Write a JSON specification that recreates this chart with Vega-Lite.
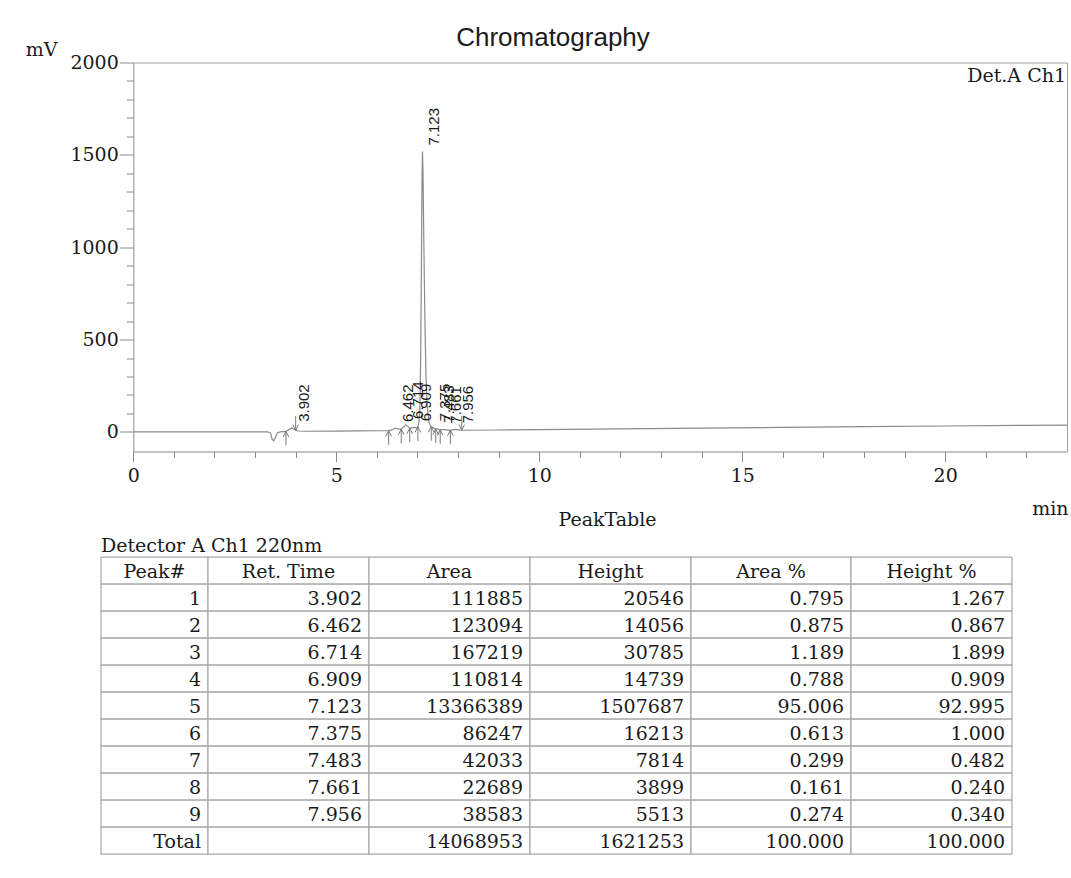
{
  "$schema": "https://vega.github.io/schema/vega-lite/v6.json",
  "background": "white",
  "padding": {"left": 25, "top": 24.5, "right": 0, "bottom": 0},
  "config": {
    "view": {"stroke": null},
    "font": "DejaVu Serif",
    "text": {"font": "DejaVu Serif", "fontSize": 19, "color": "#1a1a1a"}
  },
  "datasets": {
    "trace": [
      {"t": 0.0, "v": 0.0}, {"t": 1.0, "v": 0.3}, {"t": 2.0, "v": 0.5}, {"t": 3.0, "v": 0.6},
      {"t": 3.3, "v": 0.8}, {"t": 3.38, "v": -5}, {"t": 3.42, "v": -40}, {"t": 3.46, "v": -48},
      {"t": 3.5, "v": -30}, {"t": 3.55, "v": -4}, {"t": 3.62, "v": 0}, {"t": 3.7, "v": 2},
      {"t": 3.76, "v": 3}, {"t": 3.82, "v": 10}, {"t": 3.87, "v": 19}, {"t": 3.902, "v": 22},
      {"t": 3.95, "v": 16}, {"t": 4.0, "v": 9}, {"t": 4.05, "v": 5}, {"t": 4.2, "v": 3.5},
      {"t": 5.0, "v": 4.5}, {"t": 5.5, "v": 5.5}, {"t": 6.0, "v": 6.2}, {"t": 6.29, "v": 7},
      {"t": 6.38, "v": 12}, {"t": 6.462, "v": 21}, {"t": 6.55, "v": 15}, {"t": 6.6, "v": 15},
      {"t": 6.714, "v": 38}, {"t": 6.78, "v": 26}, {"t": 6.81, "v": 20}, {"t": 6.909, "v": 25},
      {"t": 6.98, "v": 22}, {"t": 7.01, "v": 28}, {"t": 7.04, "v": 60}, {"t": 7.06, "v": 140},
      {"t": 7.08, "v": 420}, {"t": 7.1, "v": 1000}, {"t": 7.112, "v": 1350}, {"t": 7.123, "v": 1518},
      {"t": 7.135, "v": 1420}, {"t": 7.15, "v": 1150}, {"t": 7.17, "v": 800}, {"t": 7.19, "v": 520},
      {"t": 7.21, "v": 300}, {"t": 7.24, "v": 140}, {"t": 7.28, "v": 55}, {"t": 7.33, "v": 30},
      {"t": 7.375, "v": 25}, {"t": 7.43, "v": 16}, {"t": 7.483, "v": 16}, {"t": 7.55, "v": 12},
      {"t": 7.661, "v": 12}, {"t": 7.75, "v": 10}, {"t": 7.85, "v": 10}, {"t": 7.956, "v": 14},
      {"t": 8.05, "v": 10}, {"t": 8.1, "v": 9}, {"t": 9.0, "v": 10.5}, {"t": 10.0, "v": 12.5},
      {"t": 12.0, "v": 16.5}, {"t": 14.0, "v": 20.5}, {"t": 16.0, "v": 24.5}, {"t": 18.0, "v": 28.5},
      {"t": 20.0, "v": 32}, {"t": 22.0, "v": 35.5}, {"t": 23.0, "v": 37}
    ],
    "peaks": [
      {"peak": "1", "ret": 3.902, "area": 111885, "height": 20546, "areaPct": 0.795, "heightPct": 1.267, "top": 22},
      {"peak": "2", "ret": 6.462, "area": 123094, "height": 14056, "areaPct": 0.875, "heightPct": 0.867, "top": 21},
      {"peak": "3", "ret": 6.714, "area": 167219, "height": 30785, "areaPct": 1.189, "heightPct": 1.899, "top": 38},
      {"peak": "4", "ret": 6.909, "area": 110814, "height": 14739, "areaPct": 0.788, "heightPct": 0.909, "top": 25},
      {"peak": "5", "ret": 7.123, "area": 13366389, "height": 1507687, "areaPct": 95.006, "heightPct": 92.995, "top": 1518},
      {"peak": "6", "ret": 7.375, "area": 86247, "height": 16213, "areaPct": 0.613, "heightPct": 1.0, "top": 25},
      {"peak": "7", "ret": 7.483, "area": 42033, "height": 7814, "areaPct": 0.299, "heightPct": 0.482, "top": 16},
      {"peak": "8", "ret": 7.661, "area": 22689, "height": 3899, "areaPct": 0.161, "heightPct": 0.24, "top": 12},
      {"peak": "9", "ret": 7.956, "area": 38583, "height": 5513, "areaPct": 0.274, "heightPct": 0.34, "top": 14},
      {"peak": "Total", "ret": null, "area": 14068953, "height": 1621253, "areaPct": 100, "heightPct": 100, "top": null}
    ],
    "boundaries": [
      {"t": 3.76, "v": 3, "kind": "start"}, {"t": 4.0, "v": 9, "kind": "end"},
      {"t": 6.29, "v": 7, "kind": "start"}, {"t": 6.6, "v": 15, "kind": "start"},
      {"t": 6.81, "v": 20, "kind": "start"}, {"t": 7.01, "v": 28, "kind": "start"},
      {"t": 7.34, "v": 29, "kind": "start"}, {"t": 7.45, "v": 16, "kind": "start"},
      {"t": 7.56, "v": 12, "kind": "start"}, {"t": 7.81, "v": 10, "kind": "start"},
      {"t": 8.09, "v": 9, "kind": "end"}
    ]
  },
  "spacing": -8.3,
  "vconcat": [
    {
      "width": 966,
      "height": 389,
      "title": {
        "text": "Chromatography",
        "font": "Liberation Sans",
        "fontSize": 26,
        "fontWeight": "normal",
        "color": "#1a1a1a",
        "anchor": "middle",
        "frame": "group",
        "baseline": "alphabetic",
        "dx": -31,
        "offset": -31
      },
      "resolve": {"axis": {"x": "independent", "y": "independent"}},
      "layer": [
        {
          "data": {"name": "trace"},
          "mark": {"type": "line", "color": "#8a8a8a", "strokeWidth": 1.2},
          "encoding": {
            "x": {
              "field": "t", "type": "quantitative",
              "scale": {"domain": [0, 23], "range": [32.3, 966], "nice": false, "zero": false},
              "axis": {
                "orient": "bottom", "values": [0, 5, 10, 15, 20], "format": "d",
                "grid": false, "tickSize": 10, "tickColor": "#8c8c8c", "domainColor": "#8c8c8c",
                "labelFont": "DejaVu Serif", "labelFontSize": 19, "labelColor": "#1a1a1a",
                "labelPadding": 5, "labelFlush": false, "labelOverlap": false,
                "title": "min", "titleFont": "DejaVu Serif", "titleFontSize": 19,
                "titleFontWeight": "normal", "titleColor": "#1a1a1a",
                "titleAnchor": "end", "titleAlign": "right", "titleBaseline": "alphabetic",
                "titleX": 967, "titleY": 63
              }
            },
            "y": {
              "field": "v", "type": "quantitative",
              "scale": {"domain": [-106, 2000], "nice": false, "zero": false},
              "axis": {
                "orient": "left", "offset": -32.3, "values": [0, 500, 1000, 1500, 2000], "format": "d",
                "grid": false, "tickSize": 14, "tickColor": "#8c8c8c", "domainColor": "#8c8c8c",
                "labelFont": "DejaVu Serif", "labelFontSize": 19, "labelColor": "#1a1a1a",
                "labelPadding": 1, "labelOverlap": false,
                "title": "mV", "titleFont": "DejaVu Serif", "titleFontSize": 19,
                "titleFontWeight": "normal", "titleColor": "#1a1a1a", "titleAngle": 0,
                "titleAlign": "left", "titleBaseline": "alphabetic", "titleX": -108, "titleY": -7
              }
            }
          }
        },
        {
          "data": {"name": "boundaries"},
          "mark": {"type": "point", "filled": false, "stroke": "#7a7a7a", "strokeWidth": 1, "size": 200, "opacity": 1},
          "encoding": {
            "x": {
              "field": "t", "type": "quantitative",
              "scale": {"domain": [0, 23], "range": [32.3, 966], "nice": false, "zero": false},
              "axis": {
                "orient": "bottom", "values": [1, 2, 3, 4, 6, 7, 8, 9, 11, 12, 13, 14, 16, 17, 18, 19, 21, 22],
                "grid": false, "domain": false, "labels": false, "tickSize": 6, "tickColor": "#8c8c8c", "title": null
              }
            },
            "y": {
              "field": "v", "type": "quantitative",
              "scale": {"domain": [-106, 2000], "nice": false, "zero": false},
              "axis": {
                "orient": "left", "offset": -32.3,
                "values": [100, 200, 300, 400, 600, 700, 800, 900, 1100, 1200, 1300, 1400, 1600, 1700, 1800, 1900],
                "grid": false, "domain": false, "labels": false, "tickSize": 7, "tickColor": "#8c8c8c", "title": null
              }
            },
            "shape": {
              "field": "kind", "type": "nominal",
              "scale": {"domain": ["start", "end"], "range": ["M0,0L0,2M-0.4,0.8L0,0L0.4,0.8", "M0,0L0,-2M-0.4,-0.8L0,0L0.4,-0.8"]},
              "legend": null
            }
          }
        },
        {
          "data": {"name": "peaks"},
          "transform": [{"filter": "isValid(datum.ret)"}],
          "mark": {
            "type": "text", "angle": 270, "align": "left", "baseline": "top",
            "dx": 6, "dy": 5, "font": "Liberation Sans", "fontSize": 15, "color": "#1a1a1a"
          },
          "encoding": {
            "x": {
              "field": "ret", "type": "quantitative",
              "scale": {"domain": [0, 23], "range": [32.3, 966], "nice": false, "zero": false},
              "axis": {"orient": "top", "domain": true, "domainColor": "#a0a0a0", "ticks": false, "labels": false, "grid": false, "title": null}
            },
            "y": {
              "field": "top", "type": "quantitative",
              "scale": {"domain": [-106, 2000], "nice": false, "zero": false},
              "axis": {"orient": "right", "domain": true, "domainColor": "#a0a0a0", "ticks": false, "labels": false, "grid": false, "title": null}
            },
            "text": {"field": "ret", "type": "quantitative", "format": ".3f"}
          }
        },
        {
          "data": {"values": [{"detector": "Det.A Ch1"}]},
          "mark": {"type": "text", "align": "right", "baseline": "alphabetic", "dx": -1, "dy": 19, "fontSize": 19},
          "encoding": {
            "x": {"datum": 23, "type": "quantitative", "axis": null},
            "y": {"datum": 2000, "type": "quantitative", "axis": null},
            "text": {"field": "detector", "type": "nominal"}
          }
        }
      ]
    },
    {
      "title": {
        "text": "PeakTable", "font": "DejaVu Serif", "fontSize": 19, "fontWeight": "normal",
        "color": "#1a1a1a", "anchor": "middle", "baseline": "alphabetic", "dx": 51, "offset": -8
      },
      "bounds": "flush",
      "spacing": 0,
      "hconcat": [
        {
          "width": 107, "height": 297,
          "title": {
            "text": "Detector A Ch1 220nm", "font": "DejaVu Serif", "fontSize": 19, "fontWeight": "normal",
            "color": "#1a1a1a", "anchor": "start", "frame": "group", "baseline": "alphabetic", "offset": -14
          },
          "encoding": {
            "y": {"field": "peak", "type": "nominal", "sort": null, "axis": null,
                  "scale": {"domain": ["head", "1", "2", "3", "4", "5", "6", "7", "8", "9", "Total"], "paddingInner": 0, "paddingOuter": 0}}
          },
          "layer": [
            {"data": {"values": [{"peak": "head"}]}, "mark": {"type": "rect", "fill": "white", "stroke": "#a8a8a8", "strokeWidth": 1.2},
             "encoding": {"x": {"datum": 0, "type": "quantitative", "scale": {"domain": [0, 1]}, "axis": null}, "x2": {"datum": 1}}},
            {"data": {"values": [{"peak": "head"}]}, "mark": {"type": "text", "text": "Peak#", "align": "center", "baseline": "middle", "dy": 1},
             "encoding": {"x": {"datum": 0.5, "type": "quantitative"}}},
            {"data": {"name": "peaks"}, "mark": {"type": "rect", "fill": "white", "stroke": "#a8a8a8", "strokeWidth": 1.2},
             "encoding": {"x": {"datum": 0, "type": "quantitative"}, "x2": {"datum": 1}}},
            {"data": {"name": "peaks"}, "mark": {"type": "text", "align": "right", "baseline": "middle", "dx": -7, "dy": 1},
             "encoding": {"x": {"datum": 1, "type": "quantitative"}, "text": {"field": "peak", "type": "nominal"}}}
          ]
        },
        {
          "width": 161, "height": 297,
          "encoding": {
            "y": {"field": "peak", "type": "nominal", "sort": null, "axis": null,
                  "scale": {"domain": ["head", "1", "2", "3", "4", "5", "6", "7", "8", "9", "Total"], "paddingInner": 0, "paddingOuter": 0}}
          },
          "layer": [
            {"data": {"values": [{"peak": "head"}]}, "mark": {"type": "rect", "fill": "white", "stroke": "#a8a8a8", "strokeWidth": 1.2},
             "encoding": {"x": {"datum": 0, "type": "quantitative", "scale": {"domain": [0, 1]}, "axis": null}, "x2": {"datum": 1}}},
            {"data": {"values": [{"peak": "head"}]}, "mark": {"type": "text", "text": "Ret. Time", "align": "center", "baseline": "middle", "dy": 1},
             "encoding": {"x": {"datum": 0.5, "type": "quantitative"}}},
            {"data": {"name": "peaks"}, "mark": {"type": "rect", "fill": "white", "stroke": "#a8a8a8", "strokeWidth": 1.2},
             "encoding": {"x": {"datum": 0, "type": "quantitative"}, "x2": {"datum": 1}}},
            {"data": {"name": "peaks"}, "transform": [{"filter": "isValid(datum.ret)"}],
             "mark": {"type": "text", "align": "right", "baseline": "middle", "dx": -7, "dy": 1},
             "encoding": {"x": {"datum": 1, "type": "quantitative"}, "text": {"field": "ret", "type": "quantitative", "format": ".3f"}}}
          ]
        },
        {
          "width": 161, "height": 297,
          "encoding": {
            "y": {"field": "peak", "type": "nominal", "sort": null, "axis": null,
                  "scale": {"domain": ["head", "1", "2", "3", "4", "5", "6", "7", "8", "9", "Total"], "paddingInner": 0, "paddingOuter": 0}}
          },
          "layer": [
            {"data": {"values": [{"peak": "head"}]}, "mark": {"type": "rect", "fill": "white", "stroke": "#a8a8a8", "strokeWidth": 1.2},
             "encoding": {"x": {"datum": 0, "type": "quantitative", "scale": {"domain": [0, 1]}, "axis": null}, "x2": {"datum": 1}}},
            {"data": {"values": [{"peak": "head"}]}, "mark": {"type": "text", "text": "Area", "align": "center", "baseline": "middle", "dy": 1},
             "encoding": {"x": {"datum": 0.5, "type": "quantitative"}}},
            {"data": {"name": "peaks"}, "mark": {"type": "rect", "fill": "white", "stroke": "#a8a8a8", "strokeWidth": 1.2},
             "encoding": {"x": {"datum": 0, "type": "quantitative"}, "x2": {"datum": 1}}},
            {"data": {"name": "peaks"}, "mark": {"type": "text", "align": "right", "baseline": "middle", "dx": -7, "dy": 1},
             "encoding": {"x": {"datum": 1, "type": "quantitative"}, "text": {"field": "area", "type": "quantitative", "format": "d"}}}
          ]
        },
        {
          "width": 161, "height": 297,
          "encoding": {
            "y": {"field": "peak", "type": "nominal", "sort": null, "axis": null,
                  "scale": {"domain": ["head", "1", "2", "3", "4", "5", "6", "7", "8", "9", "Total"], "paddingInner": 0, "paddingOuter": 0}}
          },
          "layer": [
            {"data": {"values": [{"peak": "head"}]}, "mark": {"type": "rect", "fill": "white", "stroke": "#a8a8a8", "strokeWidth": 1.2},
             "encoding": {"x": {"datum": 0, "type": "quantitative", "scale": {"domain": [0, 1]}, "axis": null}, "x2": {"datum": 1}}},
            {"data": {"values": [{"peak": "head"}]}, "mark": {"type": "text", "text": "Height", "align": "center", "baseline": "middle", "dy": 1},
             "encoding": {"x": {"datum": 0.5, "type": "quantitative"}}},
            {"data": {"name": "peaks"}, "mark": {"type": "rect", "fill": "white", "stroke": "#a8a8a8", "strokeWidth": 1.2},
             "encoding": {"x": {"datum": 0, "type": "quantitative"}, "x2": {"datum": 1}}},
            {"data": {"name": "peaks"}, "mark": {"type": "text", "align": "right", "baseline": "middle", "dx": -7, "dy": 1},
             "encoding": {"x": {"datum": 1, "type": "quantitative"}, "text": {"field": "height", "type": "quantitative", "format": "d"}}}
          ]
        },
        {
          "width": 160, "height": 297,
          "encoding": {
            "y": {"field": "peak", "type": "nominal", "sort": null, "axis": null,
                  "scale": {"domain": ["head", "1", "2", "3", "4", "5", "6", "7", "8", "9", "Total"], "paddingInner": 0, "paddingOuter": 0}}
          },
          "layer": [
            {"data": {"values": [{"peak": "head"}]}, "mark": {"type": "rect", "fill": "white", "stroke": "#a8a8a8", "strokeWidth": 1.2},
             "encoding": {"x": {"datum": 0, "type": "quantitative", "scale": {"domain": [0, 1]}, "axis": null}, "x2": {"datum": 1}}},
            {"data": {"values": [{"peak": "head"}]}, "mark": {"type": "text", "text": "Area %", "align": "center", "baseline": "middle", "dy": 1},
             "encoding": {"x": {"datum": 0.5, "type": "quantitative"}}},
            {"data": {"name": "peaks"}, "mark": {"type": "rect", "fill": "white", "stroke": "#a8a8a8", "strokeWidth": 1.2},
             "encoding": {"x": {"datum": 0, "type": "quantitative"}, "x2": {"datum": 1}}},
            {"data": {"name": "peaks"}, "mark": {"type": "text", "align": "right", "baseline": "middle", "dx": -7, "dy": 1},
             "encoding": {"x": {"datum": 1, "type": "quantitative"}, "text": {"field": "areaPct", "type": "quantitative", "format": ".3f"}}}
          ]
        },
        {
          "width": 161, "height": 297,
          "encoding": {
            "y": {"field": "peak", "type": "nominal", "sort": null, "axis": null,
                  "scale": {"domain": ["head", "1", "2", "3", "4", "5", "6", "7", "8", "9", "Total"], "paddingInner": 0, "paddingOuter": 0}}
          },
          "layer": [
            {"data": {"values": [{"peak": "head"}]}, "mark": {"type": "rect", "fill": "white", "stroke": "#a8a8a8", "strokeWidth": 1.2},
             "encoding": {"x": {"datum": 0, "type": "quantitative", "scale": {"domain": [0, 1]}, "axis": null}, "x2": {"datum": 1}}},
            {"data": {"values": [{"peak": "head"}]}, "mark": {"type": "text", "text": "Height %", "align": "center", "baseline": "middle", "dy": 1},
             "encoding": {"x": {"datum": 0.5, "type": "quantitative"}}},
            {"data": {"name": "peaks"}, "mark": {"type": "rect", "fill": "white", "stroke": "#a8a8a8", "strokeWidth": 1.2},
             "encoding": {"x": {"datum": 0, "type": "quantitative"}, "x2": {"datum": 1}}},
            {"data": {"name": "peaks"}, "mark": {"type": "text", "align": "right", "baseline": "middle", "dx": -7, "dy": 1},
             "encoding": {"x": {"datum": 1, "type": "quantitative"}, "text": {"field": "heightPct", "type": "quantitative", "format": ".3f"}}}
          ]
        }
      ]
    }
  ]
}
